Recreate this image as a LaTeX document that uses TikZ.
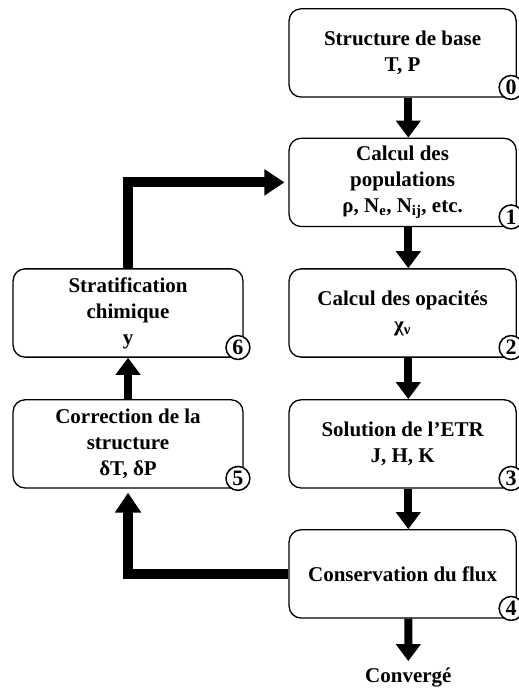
\documentclass[tikz,border=0pt]{standalone}
\usepackage{fontspec}
\setmainfont{Liberation Serif}
\usetikzlibrary{arrows.meta}

\begin{document}
\begin{tikzpicture}[
  box/.style={draw, line width=1.3pt, rounded corners=0.42cm, minimum height=3.1cm,
    align=center, inner sep=0pt, font=\fontsize{21}{26}\selectfont\bfseries},
  num/.style={draw, circle, fill=white, line width=1.5pt, minimum size=0.84cm,
    inner sep=0pt, font=\fontsize{22}{22}\selectfont\bfseries},
  down/.style={line width=8pt, -{Triangle[length=17pt,width=24pt]}},
  back/.style={line width=10pt, -{Triangle[length=20pt,width=25pt]}, shorten >=4pt}
]
\useasboundingbox (0 cm,0 cm) rectangle (18.24 cm,-24.32 cm);
% colonne de droite
\node[box, minimum width=7.98cm] (0) at (14.15 cm,-1.86 cm) {Structure de base\\T, P};
\node[box, minimum width=7.98cm] (1) at (14.15 cm,-6.41 cm) {Calcul des\\populations\\ρ, N\textsubscript{e}, N\textsubscript{ij}, etc.};
\node[box, minimum width=7.98cm] (2) at (14.15 cm,-11.0 cm) {Calcul des opacités\\χ\textsubscript{ν}};
\node[box, minimum width=7.98cm] (3) at (14.15 cm,-15.6 cm) {Solution de l’ETR\\J, H, K};
\node[box, minimum width=7.98cm] (4) at (14.15 cm,-20.17 cm) {Conservation du flux};
% colonne de gauche
\node[box, minimum width=8.08cm] (5) at (4.5 cm,-15.6 cm) {Correction de la\\structure\\δT, δP};
\node[box, minimum width=8.08cm] (6) at (4.5 cm,-11.0 cm) {Stratification\\chimique\\y};
% numeros
\node[num] (c0) at ([xshift=-0.2cm,yshift=0.36cm]0.south east) {0};
\node[num] (c1) at ([xshift=-0.2cm,yshift=0.36cm]1.south east) {1};
\node[num] (c2) at ([xshift=-0.2cm,yshift=0.36cm]2.south east) {2};
\node[num] (c3) at ([xshift=-0.2cm,yshift=0.36cm]3.south east) {3};
\node[num] (c4) at ([xshift=-0.2cm,yshift=0.36cm]4.south east) {4};
\node[num] (c5) at ([xshift=-0.2cm,yshift=0.36cm]5.south east) {5};
\node[num] (c6) at ([xshift=-0.2cm,yshift=0.36cm]6.south east) {6};
\node[anchor=base, inner sep=0pt, font=\fontsize{21}{26}\selectfont\bfseries] (conv) at (14.35 cm,-24.0 cm) {Convergé};
% fleches
\draw[down] ([xshift=0.2cm]0.south) -- ([xshift=0.2cm]1.north);
\draw[down] ([xshift=0.2cm]1.south) -- ([xshift=0.2cm]2.north);
\draw[down] ([xshift=0.2cm]2.south) -- ([xshift=0.2cm]3.north);
\draw[down] ([xshift=0.2cm]3.south) -- ([xshift=0.2cm]4.north);
\draw[down, shorten >=7pt] ([xshift=0.2cm]4.south) -- (conv.north);
\draw[back] (4.west) -| (5.south);
\draw[down] (5.north) -- (6.south);
\draw[back] (6.north) |- (1.west);
\end{tikzpicture}
\end{document}
